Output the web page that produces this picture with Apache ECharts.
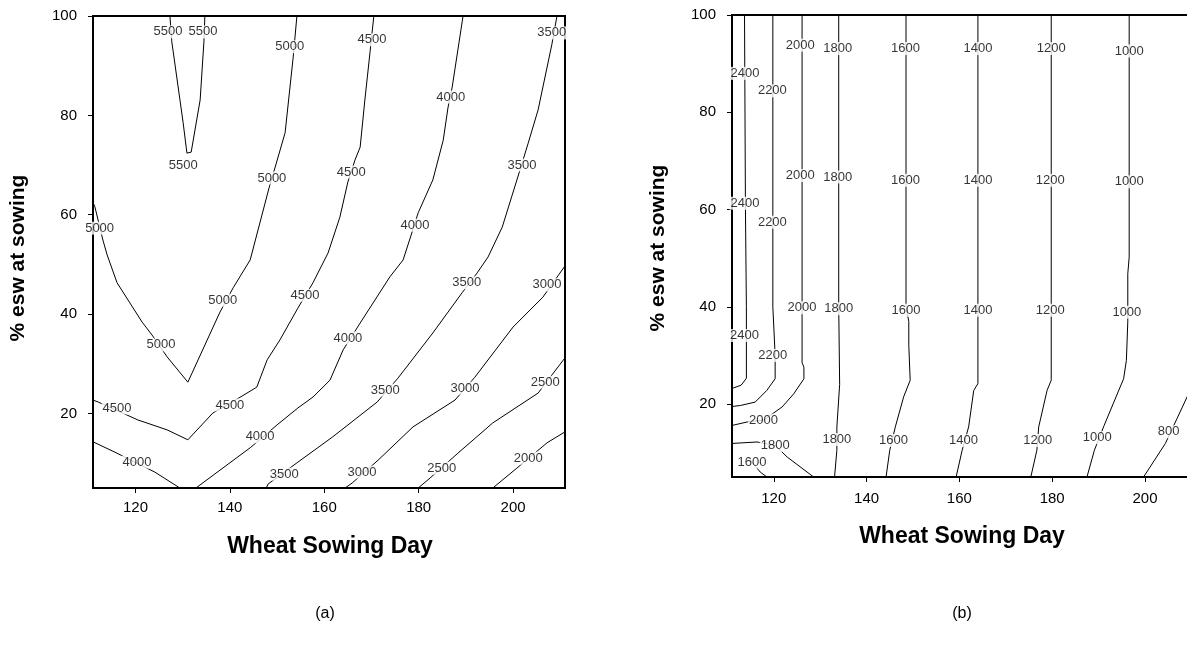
<!DOCTYPE html>
<html>
<head>
<meta charset="utf-8">
<script src="https://cdn.jsdelivr.net/npm/echarts@6/dist/echarts.min.js"></script>
<style>
html,body{margin:0;padding:0;background:#fff;}
#chart{width:1187px;height:653px;}
</style>
</head>
<body>
<div id="chart"></div>
<script>
// ---------- axis ticks ----------
const xTicks = [120, 140, 160, 180, 200];
const yTicks = [20, 40, 60, 80, 100];
const xRange = [111, 211];
const yRange = [5, 100];

// ---------- panel (a) contour lines [day, %esw] ----------
const a5500 = [[127.3,100],[127.7,94.8],[130.1,78.5],[130.9,72.4],[131.8,72.6],[133.7,83.1],[134.5,94.8],[134.7,100]];
const a5000 = [[154.2,100],[153.4,91.6],[151.7,76.5],[149.6,69.6],[148.3,65.4],[144.3,50.9],[140.7,45.3],[137.9,40.4],[131.1,26.3],[126.7,31.4],[123.5,35.8],[121.4,38.4],[116.1,46.3],[114.0,51.9],[113.1,54.9],[111.4,61.6],[111,62.5]];
const a4500 = [[170.5,100],[169.7,92.8],[168.6,83.1],[167.6,73.6],[166.5,71.0],[165.0,66.6],[163.3,59.5],[160.8,52.3],[157.6,46.3],[154.4,41.2],[150.6,34.8],[147.9,30.8],[145.7,25.3],[141,22.6],[136.4,20.1],[131.1,14.7],[126.7,16.7],[120.5,18.7],[112.1,22.3],[111,22.7]];
const a4000 = [[189.4,100],[187.1,85.7],[186.2,81.5],[185.2,75.0],[183.0,67.0],[179.9,60.4],[178.4,55.9],[176.7,50.9],[173.9,47.5],[167.6,38.2],[164.0,32.8],[161.2,26.7],[157.6,23.3],[154.4,21.1],[150.0,17.7],[144.3,13.1],[132.8,5]];
const a4000b = [[111,14.3],[116.1,12.0],[124.1,8.2],[129.4,5]];
const a3500 = [[209.3,100],[208.2,94.2],[205.3,81.1],[203.2,74.4],[201.0,67.6],[197.7,57.5],[194.7,51.5],[192.4,48.3],[189.2,44.3],[183.0,36.2],[175.6,27.1],[171.2,22.3],[161.8,15.3],[154.4,10.2],[148.1,5.8],[147.7,5]];
const a3000 = [[211,49.7],[206.3,43.4],[200.0,37.4],[191.9,27.3],[187.7,22.7],[178.8,17.3],[171.4,10.6],[165.9,6.0],[164.4,5]];
const a2500 = [[211,31.2],[205.3,24.1],[195.7,18.1],[188.3,12.0],[182.4,7.0],[179.9,5]];
const a2000 = [[211,16.3],[207.2,14.1],[200.8,9.0],[195.7,5]];

// panel (a) contour labels [day, %esw, level]
const labelsA = [
  [126.9,96.8,5500],[134.3,96.8,5500],[130.1,70.0,5500],
  [152.7,93.8,5000],[148.9,67.4,5000],[138.5,42.8,5000],[125.4,33.8,5000],[112.4,57.3,5000],
  [170.1,95.2,4500],[165.7,68.6,4500],[155.9,43.8,4500],[140.0,21.7,4500],[116.1,21.1,4500],
  [186.8,83.7,4000],[179.2,57.9,4000],[165.0,35.2,4000],[146.4,15.3,4000],[120.3,10.2,4000],
  [208.2,96.6,3500],[201.9,70.0,3500],[190.2,46.3,3500],[172.9,24.7,3500],[151.5,7.8,3500],
  [207.2,45.9,3000],[189.8,25.1,3000],[168.0,8.2,3000],
  [206.8,26.3,2500],[184.9,9.0,2500],
  [203.2,11.0,2000]
];

// ---------- panel (b) contour lines ----------
const b2400 = [[113.7,100],[113.9,60],[114.1,40],[114.1,25.3],[113.0,23.9],[111,23.2]];
const b2200 = [[119.8,100],[119.8,40],[120.3,30],[120.3,25.2],[118.5,22.8],[116.0,20.4],[112.8,19.7],[111,19.5]];
const b2000 = [[126.1,100],[126.1,40],[126.1,28.5],[126.5,27.6],[126.5,25.2],[124.3,22.1],[121.8,19.4],[117.8,16.7],[114.2,16.3],[111,15.6]];
const b1800 = [[134.0,100],[134.0,40],[134.2,24],[133.6,15.3],[133.6,10.5],[133.1,5]];
const b1800b = [[111,11.9],[116.4,12.2],[120.3,11.5],[122.9,9.1],[128.6,5]];
const b1600 = [[148.5,100],[148.5,40],[149.1,37],[149.1,32.1],[149.4,31.7],[149.4,24.9],[148.0,21.5],[146.2,15.3],[145.0,10.5],[144.2,5]];
const b1600b = [[114.5,9],[117.1,6.0],[118.5,5]];
const b1400 = [[164.0,100],[164.0,24.2],[163.1,22.8],[162.0,15.3],[160.6,10.5],[159.3,5]];
const b1200 = [[179.8,100],[179.8,24.9],[178.9,22.8],[177.1,15.3],[176.7,10.5],[175.4,5]];
const b1000 = [[196.6,100],[196.6,50.2],[196.3,46.8],[196.3,36.9],[196.0,29.0],[195.4,25.2],[191.2,15.6],[189.1,10.5],[187.5,5]];
const b800 = [[199.7,5],[204.4,11.9],[206.9,17.0],[209.1,21.5],[210.5,25]];

const labelsB = [
  [113.8,88.0,2400],[113.8,61.3,2400],[113.7,34.1,2400],
  [119.7,84.4,2200],[119.7,57.4,2200],[119.8,30.0,2200],
  [125.7,93.8,2000],[125.7,67.0,2000],[126.1,39.8,2000],[117.8,16.7,2000],
  [133.8,93.1,1800],[133.8,66.7,1800],[134.0,39.6,1800],[133.6,12.7,1800],[120.3,11.5,1800],
  [148.4,93.1,1600],[148.4,66.0,1600],[148.5,39.3,1600],[145.8,12.5,1600],[115.3,8.1,1600],
  [164.0,93.1,1400],[164.0,66.0,1400],[164.0,39.3,1400],[160.9,12.5,1400],
  [179.8,93.1,1200],[179.6,66.0,1200],[179.6,39.3,1200],[176.9,12.5,1200],
  [196.6,92.6,1000],[196.6,65.7,1000],[196.1,38.9,1000],[189.7,13.1,1000],
  [205.1,14.3,800]
];

const linesA = [a5500, a5000, a4500, a4000, a4000b, a3500, a3000, a2500, a2000];
const linesB = [b2400, b2200, b2000, b1800, b1800b, b1600, b1600b, b1400, b1200, b1000, b800];

// ---------- build ----------
const FONT = 'Liberation Sans, Arial, sans-serif';
const LABEL_FONT = 'Liberation Sans Narrow, Liberation Sans, Arial, sans-serif';

function lineSeries(data, idx) {
  return {
    type: 'line', xAxisIndex: idx, yAxisIndex: idx, data: data,
    showSymbol: false, symbol: 'none', silent: true, animation: false,
    lineStyle: { color: '#000', width: 1 }, z: 2, clip: true
  };
}
function labelSeries(data, idx) {
  return {
    type: 'scatter', xAxisIndex: idx, yAxisIndex: idx, data: data,
    symbolSize: 1, silent: true, animation: false,
    itemStyle: { color: 'rgba(0,0,0,0)' }, z: 5,
    label: {
      show: true, position: 'inside',
      formatter: p => String(p.value[2]),
      color: '#000', fontSize: 13, fontFamily: LABEL_FONT,
      backgroundColor: '#fff', padding: [0, 1]
    }
  };
}
function xAxis(idx) {
  return {
    type: 'value', gridIndex: idx, min: xRange[0], max: xRange[1],
    axisLine: { show: true, lineStyle: { color: '#000', width: 2 } },
    axisTick: { show: true, length: 5, customValues: xTicks, lineStyle: { color: '#000', width: 1 } },
    axisLabel: { customValues: xTicks, color: '#000', fontSize: 15, fontFamily: FONT, margin: idx === 0 ? 12 : 14 },
    splitLine: { show: false }
  };
}
function yAxis(idx) {
  return {
    type: 'value', gridIndex: idx, min: yRange[0], max: yRange[1],
    axisLine: { show: true, lineStyle: { color: '#000', width: 2 } },
    axisTick: { show: true, length: 5, customValues: yTicks, lineStyle: { color: '#000', width: 1 } },
    axisLabel: { customValues: yTicks, color: '#000', fontSize: 15, fontFamily: FONT, margin: 16 },
    splitLine: { show: false }
  };
}

const series = [];
linesA.forEach(d => series.push(lineSeries(d, 0)));
linesB.forEach(d => series.push(lineSeries(d, 1)));
series.push(labelSeries(labelsA, 0));
series.push(labelSeries(labelsB, 1));

const xTitleStyle = { fill: '#000', font: 'bold 23px ' + FONT, textAlign: 'center', textVerticalAlign: 'middle' };
const yTitleStyle = { fill: '#000', font: 'bold 21px ' + FONT, textAlign: 'center', textVerticalAlign: 'middle' };
const chart = echarts.init(document.getElementById('chart'), null, { renderer: 'canvas' });
chart.setOption({
  animation: false,
  backgroundColor: '#fff',
  grid: [
    { left: 93, top: 16, width: 472, height: 472, show: true, borderColor: '#000', borderWidth: 2, containLabel: false, outerBoundsMode: 'none' },
    { left: 732, top: 15, width: 464, height: 462, show: true, borderColor: '#000', borderWidth: 2, containLabel: false, outerBoundsMode: 'none' }
  ],
  xAxis: [xAxis(0), xAxis(1)],
  yAxis: [yAxis(0), yAxis(1)],
  series: series,
  graphic: [
    { type: 'text', x: 330, y: 547, style: Object.assign({ text: 'Wheat Sowing Day' }, xTitleStyle) },
    { type: 'text', x: 962, y: 537, style: Object.assign({ text: 'Wheat Sowing Day' }, xTitleStyle) },
    { type: 'text', x: 18, y: 258, rotation: Math.PI / 2, style: Object.assign({ text: '% esw at sowing' }, yTitleStyle) },
    { type: 'text', x: 658, y: 248, rotation: Math.PI / 2, style: Object.assign({ text: '% esw at sowing' }, yTitleStyle) },
    { type: 'text', x: 325, y: 614, style: { text: '(a)', fill: '#000', font: '16px ' + FONT, textAlign: 'center', textVerticalAlign: 'middle' } },
    { type: 'text', x: 962, y: 614, style: { text: '(b)', fill: '#000', font: '16px ' + FONT, textAlign: 'center', textVerticalAlign: 'middle' } }
  ]
});
</script>
</body>
</html>
